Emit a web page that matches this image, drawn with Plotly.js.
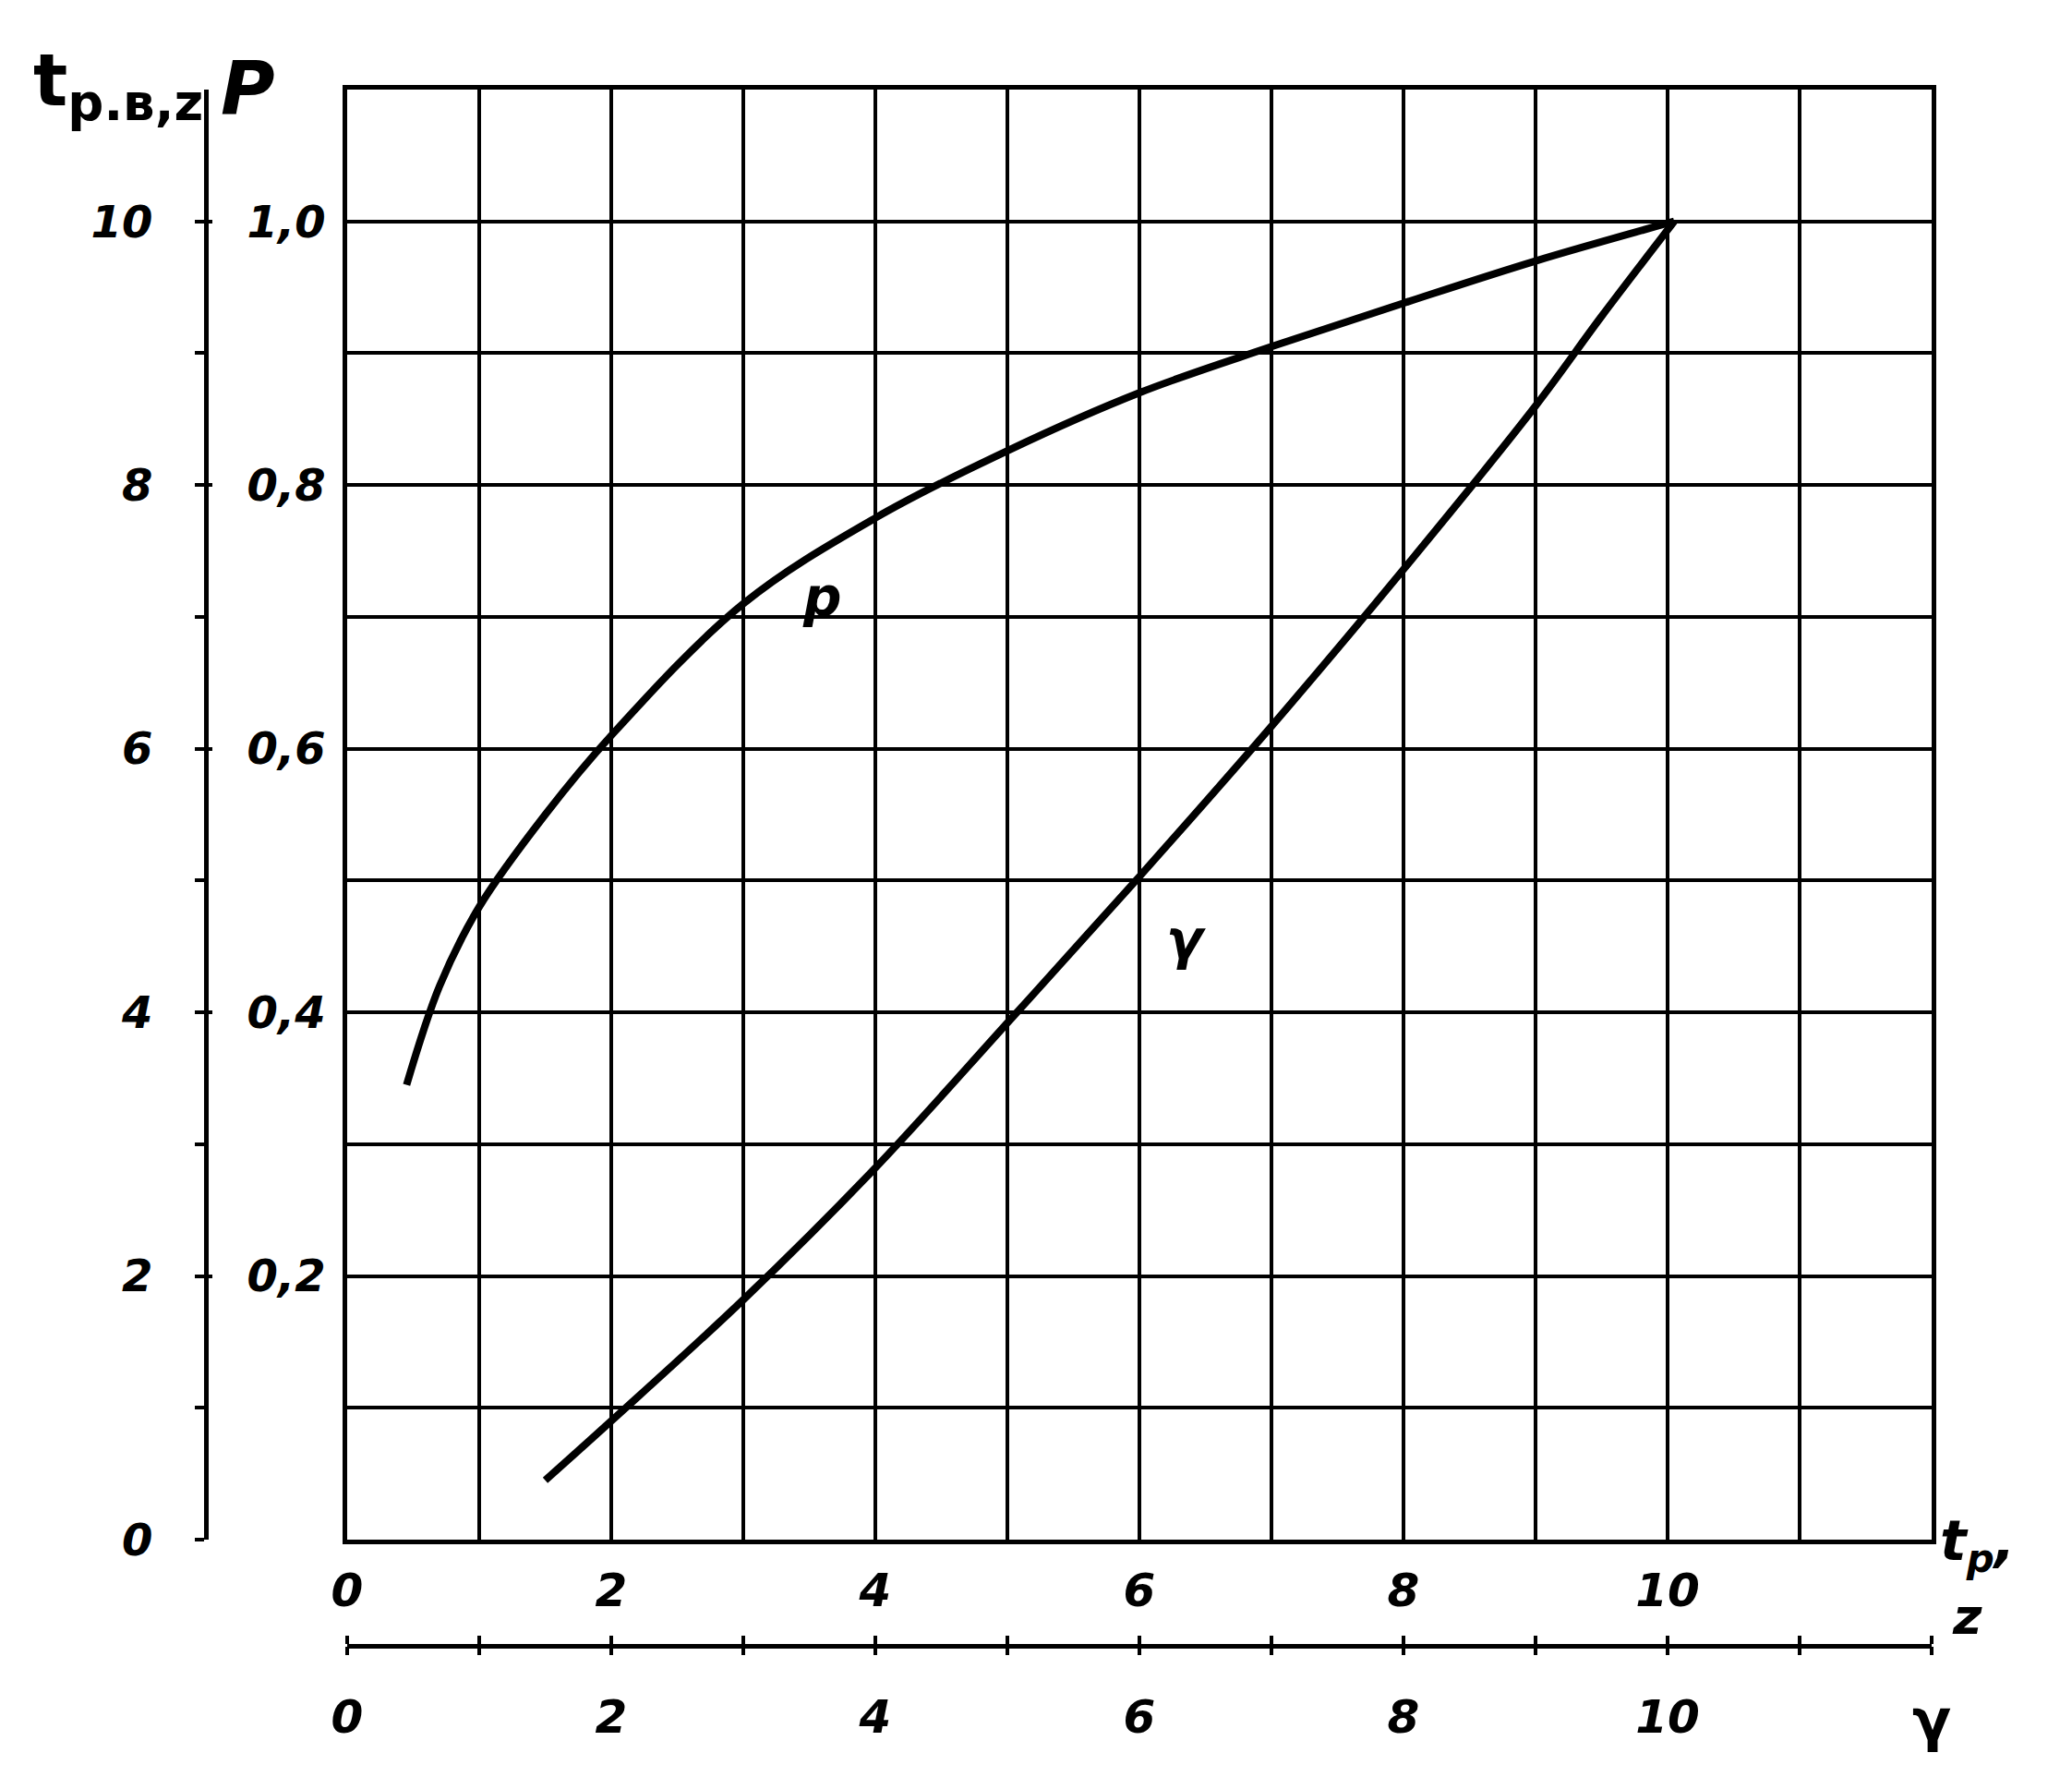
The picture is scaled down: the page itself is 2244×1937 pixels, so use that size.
<!DOCTYPE html>
<html>
<head>
<meta charset="utf-8">
<script src="https://cdn.plot.ly/plotly-3.0.1.min.js"></script>
<style>html,body{margin:0;padding:0;background:#fff;}#chart{width:2244px;height:1937px;}</style>
</head>
<body>
<div id="chart"></div>
<script>
// ---- data ----
// Curve P : P versus t_p
const tpForP = [0.45, 0.7, 1.0, 1.5, 2.0, 3.0, 4.0, 5.0, 6.0, 7.0, 8.0, 9.0, 10.05];
const pValues = [0.345, 0.42, 0.48, 0.55, 0.61, 0.71, 0.775, 0.826, 0.870, 0.905, 0.938, 0.970, 1.0];
// Curve γ : t_p.в,z versus γ
const gammaValues = [1.5, 2.0, 3.0, 4.0, 5.0, 6.0, 7.0, 8.0, 9.0, 9.5, 10.05];
const tzForGamma = [0.45, 0.9, 1.82, 2.82, 3.92, 5.03, 6.17, 7.36, 8.6, 9.28, 10.0];

// tick labels
const leftTickVals = [0,1,2,3,4,5,6,7,8,9,10];
const leftTickText = ['0','','2','','4','','6','','8','','10'];
const pTickVals = [0.2,0.4,0.6,0.8,1.0];
const pTickText = ['0,2','0,4','0,6','0,8','1,0'];
const bottomTickVals = [0,1,2,3,4,5,6,7,8,9,10,11,12];
const tpTickText = ['0','','2','','4','','6','','8','','10','',''];
const gammaTickText = ['0','','2','','4','','6','','8','','10','',''];
const curveLabels = [{text:'p', x:3.6, y:7.15}, {text:'γ', x:6.35, y:4.55}];

const W = 2244, H = 1937;
const px = v => v / W;
const py = v => 1 - v / H;

const hand = {family: 'DejaVu Sans', color: '#000', weight: 'bold', style: 'italic'};

const traces = [
  {x: tpForP, y: pValues, xaxis: 'x', yaxis: 'y3', mode: 'lines',
   line: {color: '#000', width: 8, shape: 'spline', smoothing: 1}, hoverinfo: 'skip'},
  {x: gammaValues, y: tzForGamma, xaxis: 'x3', yaxis: 'y2', mode: 'lines',
   line: {color: '#000', width: 8, shape: 'spline', smoothing: 1}, hoverinfo: 'skip'},
  {x: [], y: [], xaxis: 'x', yaxis: 'y', mode: 'lines', hoverinfo: 'skip'},
  {x: [], y: [], xaxis: 'x2', yaxis: 'y', mode: 'lines', hoverinfo: 'skip'}
];

const gridAxis = {
  showgrid: true, gridcolor: '#000', gridwidth: 4,
  showline: true, linecolor: '#000', linewidth: 5, mirror: true,
  zeroline: false, showticklabels: false, ticks: '', dtick: 1, tick0: 0
};

const bottomLineY = py(1782);

const layout = {
  width: W, height: H,
  margin: {l: 0, r: 0, t: 0, b: 0},
  paper_bgcolor: '#fff', plot_bgcolor: '#fff',
  showlegend: false,
  xaxis: Object.assign({}, gridAxis, {domain: [px(376), px(2092)], range: [0, 12], anchor: 'y'}),
  yaxis: Object.assign({}, gridAxis, {domain: [py(1667), py(97)], range: [0, 11], anchor: 'x'}),
  yaxis2: {
    overlaying: 'y', anchor: 'free', position: px(223), side: 'left',
    range: [0, 11], tickmode: 'array', tickvals: leftTickVals, ticktext: leftTickText,
    ticks: 'outside', ticklen: 10, tickwidth: 4, tickcolor: '#000',
    showline: true, linecolor: '#000', linewidth: 5, showgrid: false, zeroline: false,
    ticklabelstandoff: 36,
    tickfont: Object.assign({}, hand, {size: 48})
  },
  yaxis3: {
    overlaying: 'y', anchor: 'free', position: px(223), side: 'right',
    range: [0, 1.1], tickmode: 'array', tickvals: pTickVals, ticktext: pTickText,
    ticks: 'outside', ticklen: 6, tickwidth: 4, tickcolor: '#000',
    showline: false, showgrid: false, zeroline: false,
    ticklabelstandoff: 28,
    tickfont: Object.assign({}, hand, {size: 48})
  },
  xaxis2: {
    overlaying: 'x', anchor: 'free', position: bottomLineY, side: 'top',
    range: [0, 12], tickmode: 'array', tickvals: bottomTickVals, ticktext: tpTickText,
    ticks: 'outside', ticklen: 9, tickwidth: 4, tickcolor: '#000',
    showline: true, linecolor: '#000', linewidth: 5, showgrid: false, zeroline: false,
    ticklabelstandoff: 12,
    tickfont: {family: 'DejaVu Sans', color: '#000', size: 50, style: 'italic', weight: 'bold'}
  },
  xaxis3: {
    overlaying: 'x', anchor: 'free', position: bottomLineY, side: 'bottom',
    range: [0, 12], tickmode: 'array', tickvals: bottomTickVals, ticktext: gammaTickText,
    ticks: 'outside', ticklen: 9, tickwidth: 4, tickcolor: '#000',
    showline: false, showgrid: false, zeroline: false,
    ticklabelstandoff: 24,
    tickfont: {family: 'DejaVu Sans', color: '#000', size: 50, style: 'italic', weight: 'bold'}
  },
  annotations: [
    {xref: 'paper', yref: 'paper', x: px(128), y: py(92), text: 't<sub>p.в,z</sub>', showarrow: false,
     font: Object.assign({}, hand, {size: 78, style: 'normal'}), xanchor: 'center', yanchor: 'middle'},
    {xref: 'paper', yref: 'paper', x: px(268), y: py(95), text: 'P', showarrow: false,
     font: Object.assign({}, hand, {size: 80}), xanchor: 'center', yanchor: 'middle'},
    {xref: 'paper', yref: 'paper', x: px(2142), y: py(1672), text: 't<sub>p</sub>,', showarrow: false,
     font: {family: 'DejaVu Sans', color: '#000', size: 60, style: 'italic', weight: 'bold'}, xanchor: 'center', yanchor: 'middle'},
    {xref: 'paper', yref: 'paper', x: px(2130), y: py(1750), text: 'z', showarrow: false,
     font: {family: 'DejaVu Sans', color: '#000', size: 54, style: 'italic', weight: 'bold'}, xanchor: 'center', yanchor: 'middle'},
    {xref: 'paper', yref: 'paper', x: px(2092), y: py(1862), text: 'γ', showarrow: false,
     font: {family: 'DejaVu Sans', color: '#000', size: 62, weight: 'bold'}, xanchor: 'center', yanchor: 'middle'}
  ].concat(curveLabels.map(c => ({
    xref: 'x', yref: 'y', x: c.x, y: c.y, text: c.text, showarrow: false,
    font: Object.assign({}, hand, {size: 58}), xanchor: 'center', yanchor: 'middle',
    bgcolor: 'rgba(0,0,0,0)'
  })))
};

Plotly.newPlot('chart', traces, layout, {displayModeBar: false, staticPlot: true});
</script>
</body>
</html>
